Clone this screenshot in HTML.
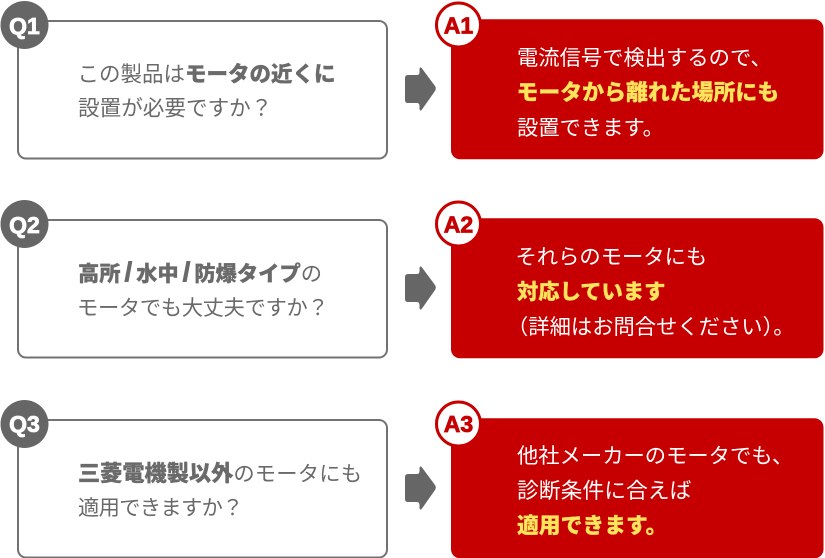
<!DOCTYPE html>
<html lang="ja">
<head>
<meta charset="utf-8">
<style>
html,body{margin:0;padding:0;background:#fff;width:825px;height:558px;overflow:hidden}
svg{display:block}
text{font-family:"Liberation Sans","Noto Sans CJK JP",sans-serif;font-size:21.3px}
.q{fill:#6a6a6a}
.a{fill:#fff}
.b{font-weight:900;stroke:#6a6a6a;stroke-width:.25px}
.y{fill:#ffe45c;font-weight:900;stroke:#ffe45c;stroke-width:.2px}
.l{font-weight:700;font-size:23px;stroke-width:.8px}
</style>
</head>
<body>
<svg width="825" height="558" viewBox="0 0 825 558" xmlns="http://www.w3.org/2000/svg">
<defs>
<g id="row">
<rect x="18" y="21" width="369" height="137.500" rx="8" fill="#fff" stroke="#727272" stroke-width="2"/>
<circle cx="24.500" cy="25" r="24" fill="#666"/>
<path d="M408 75 L417 75 Q419.500 75 419.500 72 L419.500 69 Q420 66 422 68.500 L435 86 Q436.500 88.500 435 91 L422 109.500 Q420 112 419.500 109 L419.500 106 Q419.500 103 417 103 L408 103 Q405 103 405 100 L405 78 Q405 75 408 75 Z" fill="#666"/>
<rect x="451" y="19.300" width="372.500" height="140" rx="9" fill="#c60000"/>
<circle cx="458.500" cy="25" r="22" fill="#fff" stroke="#c60000" stroke-width="3"/>
</g>
</defs>
<use href="#row"/>
<use href="#row" y="199"/>
<use href="#row" y="399"/>

<text x="24.500" y="34" text-anchor="middle" class="l" fill="#fff" stroke="#fff">Q1</text>
<text x="458.500" y="33.500" text-anchor="middle" class="l" fill="#c60000" stroke="#c60000">A1</text>
<text x="77.500" y="81.500" class="q" style="font-size:21.5px">この製品は<tspan class="b">モータの近くに</tspan></text>
<text x="78" y="115.500" class="q" style="font-size:21.6px">設置が必要ですか？</text>
<text x="517" y="65" class="a">電流信号で検出するので、</text>
<text x="516.500" y="100" class="y" style="font-size:21.9px">モータから離れた場所にも</text>
<text x="517" y="135" class="a">設置できます。</text>

<text x="24.500" y="233" text-anchor="middle" class="l" fill="#fff" stroke="#fff">Q2</text>
<text x="458.500" y="232.500" text-anchor="middle" class="l" fill="#c60000" stroke="#c60000">A2</text>
<text x="78" y="281" class="q"><tspan class="b">高所</tspan><tspan class="b" dx="4" style="font-size:27px;stroke-width:.9px">/</tspan><tspan class="b" dx="4">水中</tspan><tspan class="b" dx="4" style="font-size:27px;stroke-width:.9px">/</tspan><tspan class="b" dx="4">防爆タイプ</tspan>の</text>
<text x="77" y="315" class="q" style="letter-spacing:-.35px">モータでも大丈夫ですか？</text>
<text x="515.500" y="264" class="a">それらのモータにも</text>
<text x="517" y="299" class="y">対応しています</text>
<text x="507" y="334" class="a">（詳細はお問合せください）。</text>

<text x="24.500" y="432" text-anchor="middle" class="l" fill="#fff" stroke="#fff">Q3</text>
<text x="458.500" y="432" text-anchor="middle" class="l" fill="#c60000" stroke="#c60000">A3</text>
<text x="78" y="481" class="q"><tspan class="b" style="font-size:22.2px">三菱電機製以外</tspan><tspan style="letter-spacing:.2px">のモータにも</tspan></text>
<text x="78" y="515" class="q" style="letter-spacing:-.7px">適用できますか？</text>
<text x="517" y="463" class="a">他社メーカーのモータでも、</text>
<text x="517" y="498" class="a" style="font-size:21.8px">診断条件に合えば</text>
<text x="517" y="533" class="y" style="font-size:21.8px">適用できます。</text>
</svg>
</body>
</html>
